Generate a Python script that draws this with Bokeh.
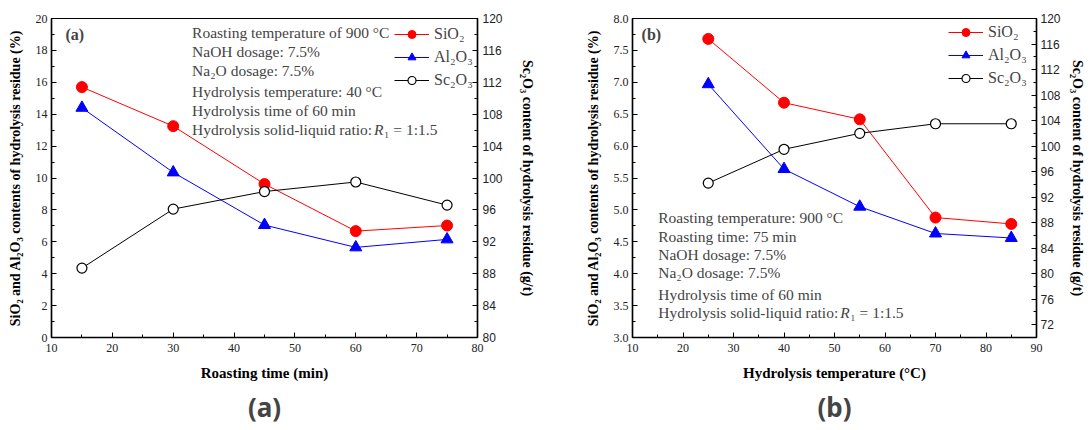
from bokeh.plotting import figure
from bokeh.models import (Range1d, LinearAxis, FixedTicker, Legend, LegendItem,
                          Label, NumeralTickFormatter)
from bokeh.layouts import row
from bokeh.embed import file_html
from bokeh.resources import INLINE

# ---------------- data ----------------
time_a = [15, 30, 45, 60, 75]
sio2_a = [15.7, 13.25, 9.62, 6.67, 7.02]
al2o3_a = [14.4, 10.35, 7.05, 5.65, 6.15]
sc2o3_a = [88.7, 96.1, 98.3, 99.5, 96.6]

temp_b = [25, 40, 55, 70, 85]
sio2_b = [7.68, 6.68, 6.42, 4.88, 4.78]
al2o3_b = [6.97, 5.64, 5.05, 4.63, 4.56]
sc2o3_b = [94.2, 99.5, 102.0, 103.5, 103.5]

series_names = ["SiO\u2082", "Al\u2082O\u2083", "Sc\u2082O\u2083"]
y_label = "SiO\u2082 and Al\u2082O\u2083 contents of hydrolysis residue (%)"
y2_label = "Sc\u2082O\u2083 content of hydrolysis residue (g/t)"

notes_a = ["Roasting temperature of 900 \u00b0C", "NaOH dosage: 7.5%",
           "Na\u2082O dosage: 7.5%", "Hydrolysis temperature: 40 \u00b0C",
           "Hydrolysis time of 60 min"]
notes_b = ["Roasting temperature: 900 \u00b0C", "Roasting time: 75 min",
           "NaOH dosage: 7.5%", "Na\u2082O dosage: 7.5%",
           "Hydrolysis time of 60 min"]

SERIF = "Liberation Serif"
SANS = "Liberation Sans"
NOTE_SIZE = "15.5px"


def style_axis(ax, ticks, minor, font, fmt=None, size="12px"):
    ax.ticker = FixedTicker(ticks=ticks, minor_ticks=minor)
    ax.major_tick_in = 5
    ax.major_tick_out = 0
    ax.minor_tick_in = 3
    ax.minor_tick_out = 0
    ax.axis_line_color = "black"
    ax.axis_line_width = 1.5
    ax.major_tick_line_color = "black"
    ax.minor_tick_line_color = "black"
    ax.major_label_text_font = font
    ax.major_label_text_font_size = size
    ax.major_label_text_color = "#222222"
    ax.axis_label_text_font = SERIF
    ax.axis_label_text_font_style = "bold"
    ax.axis_label_text_font_size = "14px"
    ax.axis_label_text_color = "black"
    if fmt:
        ax.formatter = NumeralTickFormatter(format=fmt)


def panel(tag, xs, s1, s2, s3, xr, yr, y2r, xticks, xminor, yticks, yminor,
          y2ticks, y2minor, yfmt, xlabel, width, bl, br, bb,
          notes, note_x, note_ys, r_y, tag_xy, legend_loc, y2_standoff,
          y2_label_standoff):
    p = figure(width=width, height=427, output_backend="svg",
               toolbar_location=None, title=tag, title_location="below",
               x_range=Range1d(*xr), y_range=Range1d(*yr),
               min_border_left=bl, min_border_right=br, min_border_top=18,
               min_border_bottom=bb)
    p.title.align = "center"
    p.title.text_font = "Noto Sans"
    p.title.text_font_size = "26px"
    p.title.text_font_style = "bold"
    p.title.standoff = 6
    p.grid.visible = False
    p.outline_line_color = "black"
    p.outline_line_width = 1.2
    p.extra_y_ranges = {"sc": Range1d(*y2r)}

    style_axis(p.xaxis[0], xticks, xminor, SERIF)
    p.xaxis[0].axis_label = xlabel
    p.xaxis[0].axis_label_text_font_size = "15px"
    p.xaxis[0].major_label_standoff = 6
    p.xaxis[0].axis_label_standoff = 10
    style_axis(p.yaxis[0], yticks, yminor, SERIF, yfmt)
    p.yaxis[0].axis_label = y_label
    p.yaxis[0].major_label_standoff = 4
    p.yaxis[0].axis_label_standoff = 10

    ax2 = LinearAxis(y_range_name="sc", axis_label=y2_label)
    style_axis(ax2, y2ticks, y2minor, SANS)
    ax2.major_label_standoff = y2_label_standoff
    ax2.axis_label_standoff = y2_standoff
    p.add_layout(ax2, "right")

    l1 = p.line(xs, s1, color="red", line_width=1)
    m1 = p.scatter(xs, s1, marker="circle", size=11, color="red")
    l2 = p.line(xs, s2, color="blue", line_width=1)
    m2 = p.scatter(xs, s2, marker="triangle", size=12, color="blue")
    l3 = p.line(xs, s3, color="black", line_width=1, y_range_name="sc")
    m3 = p.scatter(xs, s3, marker="circle", size=10, line_color="black",
                   fill_color="white", line_width=1.2, y_range_name="sc")

    leg = Legend(items=[LegendItem(label=series_names[0], renderers=[l1, m1]),
                        LegendItem(label=series_names[1], renderers=[l2, m2]),
                        LegendItem(label=series_names[2], renderers=[l3, m3])],
                 location=legend_loc, label_text_font=SERIF,
                 label_text_font_size="16px", glyph_width=35, glyph_height=20,
                 label_height=20, spacing=3, padding=0, margin=0,
                 label_standoff=5, border_line_alpha=0,
                 background_fill_alpha=0)
    p.add_layout(leg)

    for t, yy in zip(notes, note_ys):
        p.add_layout(Label(x=note_x, y=yy, text=t, text_font=SERIF,
                           text_font_size=NOTE_SIZE, text_baseline="middle"))
    p.add_layout(Label(x=note_x, y=r_y, text="Hydrolysis solid-liquid ratio: ",
                       text_font=SERIF, text_font_size=NOTE_SIZE,
                       text_baseline="middle"))
    p.add_layout(Label(x=note_x, y=r_y, x_offset=182, text="R",
                       text_font=SERIF, text_font_size=NOTE_SIZE,
                       text_font_style="italic", text_baseline="middle"))
    p.add_layout(Label(x=note_x, y=r_y, x_offset=192, text="\u2081 = 1:1.5",
                       text_font=SERIF, text_font_size=NOTE_SIZE,
                       text_baseline="middle"))
    p.add_layout(Label(x=tag_xy[0], y=tag_xy[1], text="(" + tag[1] + ")",
                       text_font=SERIF, text_font_size="16px",
                       text_font_style="bold", text_baseline="middle"))
    return p


pa = panel("(a)", time_a, sio2_a, al2o3_a, sc2o3_a,
           (10, 80), (0, 20), (80, 120),
           list(range(10, 81, 10)), list(range(10, 81, 5)),
           list(range(0, 21, 2)), list(range(0, 21, 1)),
           list(range(80, 121, 4)), list(range(80, 121, 2)),
           None, "Roasting time (min)", 537, 51, 58, 87,
           notes_a, 33.1, [19.13, 17.95, 16.71, 15.40, 14.22], 13.04,
           (12.3, 19.0), (343, 247), 14, 5)

pb = panel("(b)", temp_b, sio2_b, al2o3_b, sc2o3_b,
           (10, 90), (3, 8), (70, 120),
           list(range(10, 91, 10)), list(range(10, 91, 5)),
           [3 + 0.5 * i for i in range(11)], [3 + 0.25 * i for i in range(21)],
           list(range(72, 121, 4)), list(range(70, 121, 2)),
           "0.0", "Hydrolysis temperature (\u00b0C)", 550, 95, 49, 82,
           notes_b, 15.1, [4.88, 4.59, 4.30, 4.025, 3.673], 3.398,
           (11.8, 7.755), (316, 249), 6, 4)

layout = row(pa, pb)
open("out.html", "w").write(file_html(layout, INLINE))
